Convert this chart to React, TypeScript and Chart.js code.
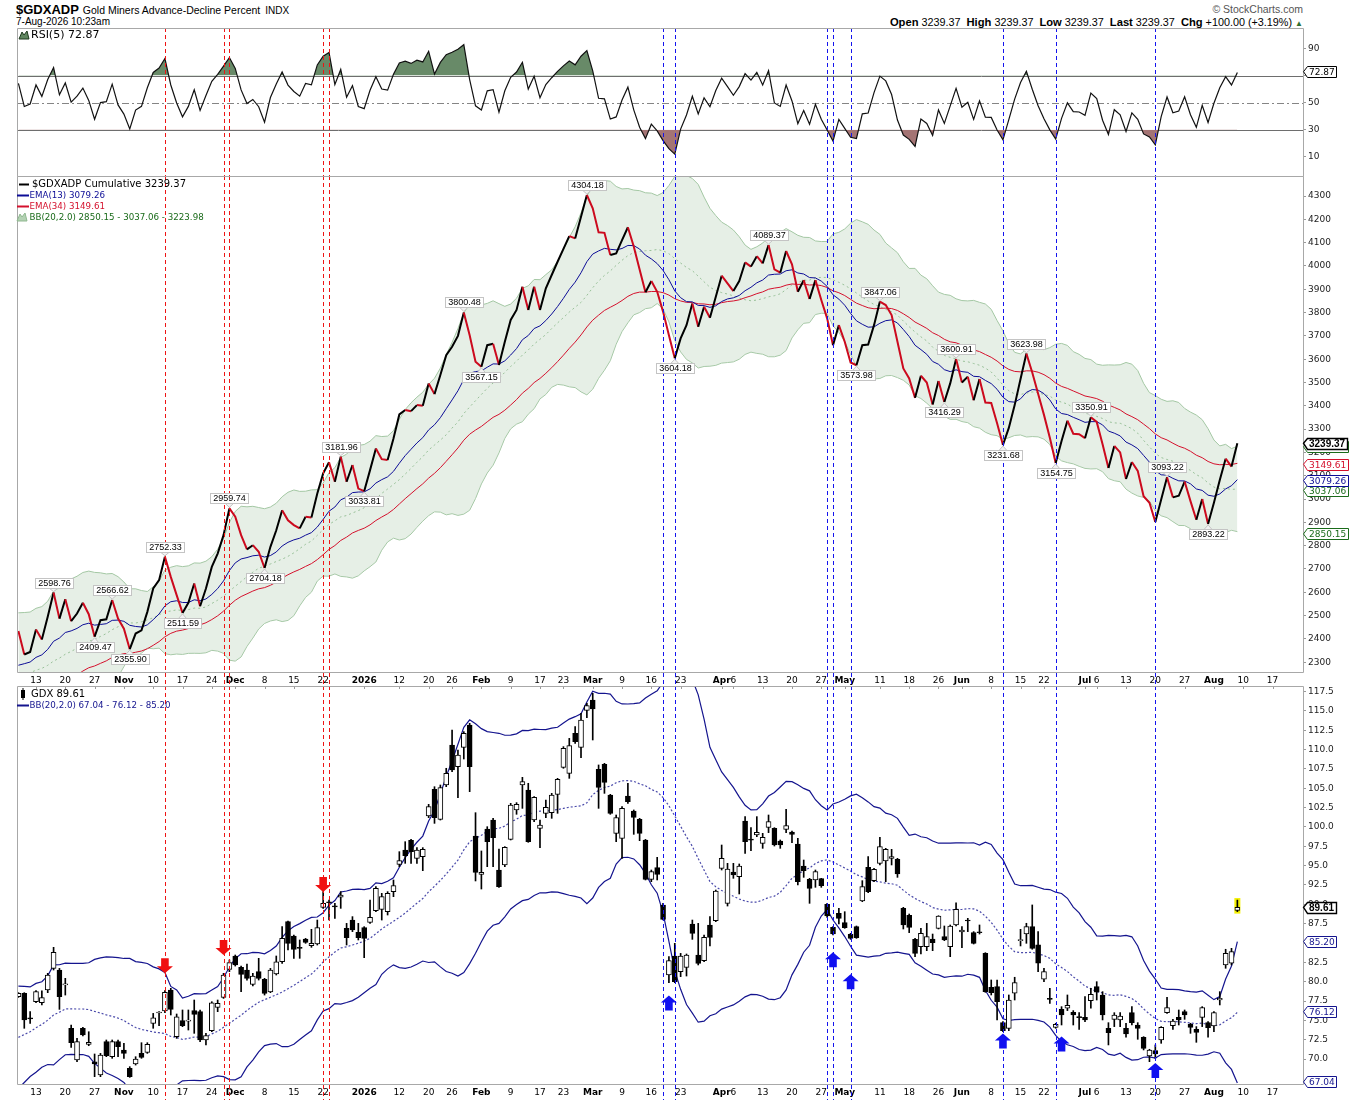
import React, { useEffect, useRef } from 'react';
import { Chart, registerables } from 'chart.js';

Chart.register(...registerables);

// ---------------- data ----------------
// trading-day index: 0 = 13-Oct-2025; the first bar shown is index -3 (8-Oct-2025), the last is 205 (7-Aug-2026)
const FIRST_INDEX = -3;
const X_MIN = -3.242;
const X_MAX = 216.2;

const tickIndex = [0, 5, 10, 15, 20, 25, 30, 34, 39, 44, 49, 56, 62, 67, 71, 76, 81, 86, 90, 95, 100, 105, 110, 117, 119, 124, 129, 134, 138, 144, 149, 154, 158, 163, 168, 172, 179, 181, 186, 191, 196, 201, 206, 211];
const tickText = ['13', '20', '27', 'Nov', '10', '17', '24', 'Dec', '8', '15', '22', '2026', '12', '20', '26', 'Feb', '9', '17', '23', 'Mar', '9', '16', '23', 'Apr', '6', '13', '20', '27', 'May', '11', '18', '26', 'Jun', '8', '15', '22', 'Jul', '6', '13', '20', '27', 'Aug', '10', '17'];

// $GDXADP cumulative close, index -3 .. 205
const cumValues = [
  2434, 2333, 2344,
  2440, 2397, 2495, 2598.76, 2487, 2570, 2476, 2509, 2555, 2506,
  2409.47, 2480, 2484, 2566.62, 2487, 2444, 2355.90, 2423, 2437, 2516,
  2616, 2652, 2752.33, 2666, 2588, 2511.59, 2555, 2638, 2540, 2616,
  2709, 2766, 2845, 2959.74, 2924, 2845, 2784, 2802, 2774, 2704.18,
  2795, 2866, 2952, 2909, 2888, 2874, 2924, 2921, 3024, 3110,
  3158, 3074, 3181.96, 3074, 3146, 3045, 3033.81, 3124, 3217, 3171,
  3167, 3260, 3363, 3382, 3377, 3403, 3400, 3496, 3450, 3532,
  3617, 3653, 3700, 3800.48, 3703, 3589, 3567.15, 3660, 3666, 3575,
  3675, 3768, 3811, 3911, 3811, 3911, 3811, 3904, 3961, 4018,
  4073, 4128, 4118, 4211, 4304.18, 4247, 4144, 4142, 4047, 4054,
  4111, 4166, 4083, 3985, 3887, 3935, 3889, 3804, 3703, 3604.18,
  3689, 3746, 3839, 3739, 3825, 3778, 3868, 3958, 3925, 3892,
  3935, 4015, 3997, 4042, 4011, 4089.37, 3985, 3971, 4064, 4007,
  3889, 3939, 3858, 3939, 3854, 3775, 3660, 3746, 3675, 3586,
  3573.98, 3660, 3663, 3746, 3847.06, 3832, 3789, 3675, 3560, 3517,
  3434, 3529, 3500, 3406, 3506, 3416.29, 3496, 3600.91, 3500, 3525,
  3424, 3515, 3414, 3412, 3325, 3231.68, 3305, 3403, 3515, 3623.98,
  3543, 3452, 3361, 3263, 3154.75, 3249, 3336, 3280, 3278, 3261,
  3350.91, 3331, 3235, 3133, 3228, 3200, 3086, 3159, 3121, 3012,
  2984, 2902, 2998, 3093.22, 3007, 3014, 3075, 2991, 2911, 3000,
  2893.22, 2984, 3082, 3173, 3139.37, 3239.37,
];

// GDX daily OHLC, index -3 .. 205
const gdxOpen = [
  78.06, 78.49, 75.30,
  77.41, 77.28, 78.92, 81.72, 81.51, 79.58, 73.97, 69.87, 73.97, 71.90,
  69.65, 67.93, 72.24, 70.30, 72.24, 71.16, 68.79, 69.35, 70.73, 70.86,
  74.61, 75.95, 76.21, 78.92, 72.89, 74.96, 74.90, 76.25, 76.12, 72.46,
  73.66, 76.68, 77.97, 81.59, 83.32, 81.85, 81.51, 79.65, 81.29, 80.30,
  78.66, 80.99, 82.58, 87.76, 85.90, 84.35, 85.52, 84.65, 84.87, 89.61,
  90.30, 89.75, 90.91, 86.90, 87.97, 86.38, 86.98, 87.67, 89.18, 89.35,
  89.05, 91.64, 95.17, 97.03, 98.28, 95.95, 96.16, 101.42, 104.87, 100.99,
  105.43, 110.60, 107.80, 110.30, 113.19, 98.84, 93.88, 99.74, 100.90, 94.44,
  95.09, 98.40, 102.20, 105.43, 104.78, 100.90, 99.83, 101.77, 101.85, 104.22,
  107.71, 106.94, 112.11, 110.30, 115.08, 116.42, 107.46, 108.10, 104.14, 99.18,
  98.53, 104.01, 102.07, 100.99, 98.32, 93.23, 94.74, 89.91, 80.86, 83.32,
  81.29, 81.85, 87.46, 83.45, 82.72, 87.33, 87.89, 94.65, 90.13, 94.18,
  93.58, 100.77, 98.35, 98.96, 97.89, 99.96, 99.83, 98.19, 99.70, 99.35,
  97.80, 94.96, 93.23, 93.15, 93.32, 90.00, 87.03, 88.84, 87.63, 86.12,
  87.11, 90.43, 94.78, 93.06, 95.30, 95.60, 95.95, 95.82, 89.48, 88.58,
  85.47, 84.53, 84.53, 85.52, 86.90, 85.82, 84.53, 87.33, 86.42, 87.90,
  86.34, 86.37, 83.66, 79.27, 79.35, 74.70, 73.97, 78.50, 85.30, 86.17,
  87.12, 84.75, 80.31, 77.75, 74.10, 76.43, 76.56, 76.04, 75.48, 75.39,
  77.55, 79.36, 78.28, 73.97, 75.13, 75.05, 73.97, 75.99, 74.40, 72.81,
  70.39, 71.08, 72.46, 75.99, 74.32, 75.39, 76.13, 74.49, 73.84, 75.39,
  74.70, 74.27, 77.63, 82.16, 82.38, 89.20,
];
const gdxHigh = [
  78.58, 78.58, 76.12,
  78.84, 78.80, 81.08, 84.44, 81.72, 80.43, 74.40, 72.67, 74.10, 73.53,
  70.65, 70.73, 72.46, 72.46, 72.46, 72.03, 69.01, 70.30, 72.11, 72.11,
  75.90, 76.12, 78.84, 79.14, 75.82, 76.34, 76.34, 77.63, 76.34, 73.32,
  77.41, 77.63, 81.08, 82.80, 83.45, 82.02, 82.28, 81.08, 83.02, 80.43,
  81.72, 83.32, 87.11, 87.84, 86.03, 85.39, 85.60, 86.77, 87.97, 91.64,
  90.56, 90.13, 91.64, 87.54, 88.41, 87.54, 87.11, 90.56, 92.28, 91.42,
  91.64, 93.15, 96.81, 98.10, 98.40, 97.33, 97.33, 102.93, 105.21, 105.43,
  107.59, 112.54, 109.96, 112.33, 113.40, 101.85, 96.90, 100.04, 101.12, 97.15,
  97.46, 103.06, 103.15, 106.42, 105.65, 103.92, 100.90, 103.49, 104.35, 106.29,
  110.39, 111.46, 112.97, 114.70, 115.99, 117.28, 108.02, 108.23, 104.22, 101.55,
  102.63, 105.65, 102.20, 101.12, 98.40, 94.44, 96.08, 90.13, 83.23, 84.96,
  83.66, 83.58, 87.97, 87.54, 86.03, 88.41, 91.85, 97.67, 95.30, 95.30,
  95.22, 101.34, 99.91, 101.34, 99.18, 101.55, 99.91, 98.32, 102.28, 99.48,
  98.53, 95.73, 93.36, 94.44, 93.36, 90.13, 87.11, 89.48, 89.05, 86.25,
  87.20, 93.06, 96.16, 94.65, 98.66, 97.24, 97.11, 95.95, 89.61, 88.75,
  85.60, 86.90, 87.54, 86.16, 88.53, 87.20, 87.33, 90.21, 87.11, 88.19,
  86.47, 87.33, 83.75, 80.22, 80.22, 74.83, 78.28, 80.57, 86.77, 87.55,
  89.92, 86.47, 81.73, 79.14, 74.62, 76.77, 78.28, 76.26, 75.99, 78.07,
  79.14, 80.00, 78.71, 74.70, 75.99, 75.99, 74.62, 76.77, 74.70, 72.89,
  71.26, 71.82, 74.19, 77.98, 75.13, 76.34, 76.34, 74.62, 74.19, 76.77,
  74.83, 76.13, 78.71, 84.19, 84.31, 90.55,
];
const gdxLow = [
  77.97, 73.97, 74.61,
  77.28, 76.98, 78.58, 81.51, 76.42, 78.27, 71.51, 69.65, 72.97, 71.72,
  67.72, 67.72, 70.30, 70.09, 70.30, 70.09, 67.63, 69.22, 70.09, 70.73,
  73.97, 74.31, 75.99, 75.69, 72.67, 74.18, 73.75, 73.32, 72.24, 71.81,
  73.53, 76.12, 77.84, 81.29, 82.02, 78.71, 80.21, 79.44, 80.21, 78.27,
  78.58, 80.86, 82.37, 84.10, 83.02, 83.02, 84.96, 84.44, 84.74, 89.48,
  87.97, 88.19, 89.48, 84.74, 86.47, 85.39, 83.10, 87.54, 89.05, 87.97,
  88.62, 90.99, 94.87, 95.30, 95.30, 95.30, 94.35, 101.21, 100.47, 100.90,
  105.21, 107.15, 103.79, 108.79, 104.57, 93.02, 91.98, 94.87, 94.87, 92.20,
  94.87, 98.32, 101.64, 102.41, 98.02, 100.69, 97.33, 101.21, 101.12, 101.77,
  107.59, 106.29, 110.82, 108.96, 114.14, 111.25, 102.41, 104.35, 101.64, 98.10,
  95.95, 103.06, 99.05, 98.23, 93.15, 92.93, 93.15, 87.97, 79.87, 79.87,
  80.65, 80.73, 85.47, 82.16, 82.59, 84.61, 87.76, 94.44, 89.78, 93.36,
  91.34, 96.59, 96.94, 98.75, 97.24, 99.27, 97.54, 97.24, 99.27, 97.97,
  92.50, 93.49, 90.13, 92.20, 92.20, 88.32, 86.03, 87.46, 86.90, 85.47,
  85.60, 90.34, 91.51, 92.93, 95.09, 92.93, 95.09, 93.49, 86.81, 86.34,
  83.23, 83.58, 84.01, 84.01, 86.81, 85.30, 83.23, 87.20, 84.40, 86.47,
  84.87, 86.16, 78.62, 78.28, 75.04, 73.54, 73.67, 77.63, 84.62, 84.96,
  84.19, 81.30, 80.00, 77.20, 73.97, 74.40, 76.26, 74.40, 73.84, 74.83,
  76.56, 77.63, 75.05, 71.82, 74.19, 74.19, 72.81, 74.40, 72.55, 71.17,
  69.66, 70.09, 72.03, 75.91, 73.84, 74.40, 75.13, 73.32, 72.16, 74.19,
  72.81, 73.54, 76.99, 81.73, 82.16, 89.06,
];
const gdxClose = [
  78.49, 75.04, 75.20,
  78.71, 77.93, 80.86, 83.79, 78.06, 79.62, 72.11, 72.24, 73.10, 72.15,
  69.35, 70.52, 70.43, 72.24, 71.60, 70.73, 67.72, 70.00, 70.22, 71.90,
  75.34, 76.03, 78.62, 76.42, 75.47, 74.31, 74.96, 75.77, 72.46, 73.02,
  77.28, 77.20, 80.86, 82.46, 82.15, 80.95, 80.43, 80.73, 80.43, 78.49,
  81.51, 82.58, 85.60, 84.96, 84.18, 84.30, 85.08, 84.96, 86.98, 90.13,
  90.20, 89.68, 91.21, 85.69, 86.68, 85.69, 85.60, 88.32, 92.07, 90.99,
  91.42, 92.41, 95.65, 96.29, 96.81, 97.03, 97.11, 102.63, 101.21, 105.09,
  106.94, 107.37, 109.31, 112.11, 107.80, 94.14, 94.14, 98.10, 98.62, 92.28,
  97.37, 102.84, 102.93, 105.86, 98.10, 103.84, 100.26, 102.54, 104.14, 106.16,
  110.17, 110.52, 111.03, 113.83, 115.69, 115.26, 105.13, 105.77, 101.77, 101.21,
  102.41, 103.28, 101.25, 99.18, 93.23, 94.22, 93.88, 88.06, 82.72, 80.00,
  83.32, 83.45, 86.25, 82.37, 85.73, 85.73, 91.72, 95.95, 94.57, 93.79,
  94.96, 98.10, 98.30, 99.31, 98.66, 100.69, 97.67, 97.67, 100.17, 99.05,
  92.93, 94.35, 92.07, 94.22, 92.41, 88.49, 86.16, 88.19, 86.98, 85.60,
  85.69, 92.28, 91.64, 94.52, 97.46, 97.11, 96.16, 93.92, 87.33, 87.03,
  83.66, 86.25, 85.82, 85.04, 88.49, 85.39, 87.20, 89.35, 86.68, 87.85,
  84.96, 86.32, 78.71, 78.58, 77.41, 73.67, 77.63, 79.88, 85.31, 87.12,
  84.31, 82.38, 81.30, 77.72, 74.49, 75.69, 76.94, 75.69, 75.35, 75.05,
  78.37, 78.63, 75.69, 73.41, 75.69, 75.56, 73.24, 74.70, 73.97, 71.38,
  71.17, 70.65, 74.10, 76.64, 74.92, 75.05, 75.69, 74.10, 73.45, 76.64,
  74.06, 75.99, 77.85, 83.67, 83.88, 89.61,
];

// annotated swing points on the cumulative line
const peakIndex = [3, 13, 22, 33, 52, 73, 94, 125, 144, 157, 169, 180, 193];
const troughIndex = [10, 16, 25, 39, 56, 76, 109, 140, 155, 165, 174, 200];

// vertical dashed marker lines
const redLineIndex = [22, 32, 33, 49, 50];
const blueLineIndex = [107, 109, 135, 136, 139, 165, 174, 191];

// signal arrows on the GDX panel (tip value)
const sellArrowIndex = [22, 32, 49];
const sellArrowTip = [81.1, 83.45, 91.6];
const buyArrowIndex = [108, 136, 139, 165, 175, 191];
const buyArrowTip = [78.2, 83.8, 80.95, 73.3, 72.9, 69.5];

// legend / last values as printed
const legendRsi = 72.87;
const legendCum = 3239.37;
const legendEma13 = 3079.26;
const legendEma34 = 3149.61;
const legendCumBB = [2850.15, 3037.06, 3223.98];
const legendGdx = 89.61;
const legendGdxBB = [67.04, 76.12, 85.20];

// indicator warm-up (history before the first shown bar), estimated from the picture's left edge
const cumEmaSeed = [2287, 2060];
const cumWarmup = { level: 2235, slope: 0, scatter: 129.5 };
const gdxWarmup = { level: 78, slope: 0.55, scatter: 0.8 };
const rsiSeed = [45, 25];

// axis ticks
const rsiTicks = [10, 30, 50, 70, 90];
const cumTicks = [2300, 2400, 2500, 2600, 2700, 2800, 2900, 3000, 3100, 3200, 3300, 3400, 3500, 3600, 3700, 3800, 3900, 4000, 4100, 4200, 4300];
const gdxTicks = [70, 72.5, 75, 77.5, 80, 82.5, 85, 87.5, 90, 92.5, 95, 97.5, 100, 102.5, 105, 107.5, 110, 112.5, 115, 117.5];

// ---------------- indicators ----------------
function ema(values: number[], period: number, seed: number) {
  const k = 2 / (period + 1);
  let e = seed;
  return values.map((v, i) => {
    if (i > 0) e = e + k * (v - e);
    return e;
  });
}

// Bollinger bands; positions before the first bar use the warm-up estimate (level + slope*k, scatter)
function bollinger(values: number[], period: number, mult: number, warm: { level: number; slope: number; scatter: number }) {
  return values.map((_, i) => {
    const win = values.slice(Math.max(0, i - period + 1), i + 1);
    const missing = period - win.length;
    const hist: number[] = [];
    for (let k = 1; k <= missing; k++) hist.push(warm.level - warm.slope * k);
    const all = hist.concat(win);
    const mean = all.reduce((a, b) => a + b, 0) / period;
    const ss = all.reduce((a, b) => a + (b - mean) * (b - mean), 0) + missing * warm.scatter * warm.scatter;
    const sd = Math.sqrt(ss / period);
    return { mid: mean, up: mean + mult * sd, lo: mean - mult * sd };
  });
}

function rsi(values: number[], period: number, g0: number, l0: number) {
  let g = g0;
  let l = l0;
  return values.map((v, i) => {
    if (i > 0) {
      const d = v - values[i - 1];
      g = (g * (period - 1) + Math.max(d, 0)) / period;
      l = (l * (period - 1) + Math.max(-d, 0)) / period;
    }
    return l === 0 ? 100 : 100 - 100 / (1 + g / l);
  });
}

const pts = (arr: number[]) => arr.map((y, k) => ({ x: k + FIRST_INDEX, y }));

// ---------------- styles ----------------
const DOWN_RED = '#cc0a1e';
const EMA13_C = '#0c0c96';
const EMA34_C = '#d4102c';
const NAVY = '#14148e';
const BAND_LINE = '#a3c7a3';
const BAND_FILL = 'rgba(186,212,186,0.36)';
const BB_GREEN = '#1a6b1a';
const FRAME = '#a8a8a8';
const FONT = '"DejaVu Sans", Verdana, sans-serif';
const ARIAL = '"Liberation Sans", Arial, sans-serif';

function xScale(show: boolean, height: number) {
  return {
    type: 'linear',
    min: X_MIN,
    max: X_MAX,
    bounds: 'data',
    offset: false,
    display: show,
    grid: { display: false, drawTicks: false },
    border: { display: false },
    afterBuildTicks: (s: any) => {
      s.ticks = tickIndex.map((v) => ({ value: v }));
    },
    afterFit: (s: any) => {
      s.height = height;
      s.paddingLeft = 0;
      s.paddingRight = 0;
    },
    ticks: {
      autoSkip: false,
      maxRotation: 0,
      minRotation: 0,
      padding: 2,
      color: '#000',
      font: (c: any) => {
        const idx = tickIndex.indexOf(c.tick ? c.tick.value : -999);
        const t = idx >= 0 ? tickText[idx] : '';
        return { family: FONT, size: 9, weight: /^[A-Z]|2026/.test(t) ? 'bold' : 'normal' };
      },
      callback: (v: number) => {
        const idx = tickIndex.indexOf(v);
        return idx >= 0 ? tickText[idx] : '';
      },
    },
  };
}

function yScale(min: number, max: number, ticks: number[], fmt: (v: number) => string) {
  return {
    type: 'linear',
    position: 'right',
    min,
    max,
    bounds: 'data',
    grid: { display: true, drawOnChartArea: false, drawTicks: true, tickLength: 3, color: '#9a9a9a' },
    border: { display: false },
    afterBuildTicks: (s: any) => {
      s.ticks = ticks.map((v) => ({ value: v }));
    },
    afterFit: (s: any) => {
      s.width = 47;
      s.paddingTop = 0;
      s.paddingBottom = 0;
    },
    ticks: { padding: 2, color: '#222', font: { family: FONT, size: 9 }, callback: fmt },
  };
}

function baseOptions(scales: any) {
  return {
    animation: false,
    responsive: false,
    maintainAspectRatio: false,
    events: [],
    layout: { padding: { left: 17, right: 0, top: 0, bottom: 0 } },
    plugins: { legend: { display: false }, tooltip: { enabled: false } },
    scales,
  };
}

// ---------------- drawing helpers ----------------
function drawFrame(chart: any) {
  const { ctx, chartArea: a } = chart;
  ctx.save();
  ctx.strokeStyle = FRAME;
  ctx.lineWidth = 1;
  ctx.setLineDash([]);
  const l = Math.round(a.left) + 0.5;
  const t = Math.round(a.top) + 0.5;
  const r = Math.round(a.right) + 0.5;
  const b = Math.round(a.bottom) - 0.5;
  ctx.beginPath();
  ctx.moveTo(l, b);
  ctx.lineTo(l, t);
  ctx.lineTo(r, t);
  ctx.lineTo(r, b);
  ctx.lineTo(l, b);
  ctx.stroke();
  ctx.restore();
}

function drawVLines(chart: any, toBottom: boolean) {
  const { ctx, chartArea } = chart;
  const xs = chart.scales.x;
  const y0 = chartArea.top;
  const y1 = toBottom ? chart.height : chartArea.bottom;
  ctx.save();
  ctx.lineWidth = 1;
  ctx.setLineDash([4, 3]);
  const groups: [number[], string][] = [[redLineIndex, '#ee1414'], [blueLineIndex, '#1414ee']];
  for (const [list, color] of groups) {
    ctx.strokeStyle = color;
    for (const i of list) {
      const x = Math.round(xs.getPixelForValue(i)) + 0.5;
      ctx.beginPath();
      ctx.moveTo(x, y0);
      ctx.lineTo(x, y1);
      ctx.stroke();
    }
  }
  ctx.restore();
}

function drawTag(ctx: any, x0: number, y: number, text: string, color: string, bold: boolean) {
  ctx.save();
  ctx.font = bold ? `bold 10px ${ARIAL}` : `9px ${FONT}`;
  const w = ctx.measureText(text).width;
  const h = 11;
  const xl = x0 + 0.5;
  const xb = xl + 4;
  const xr = Math.round(xb + w + 3) + 0.5;
  const yt = Math.round(y - h / 2) + 0.5;
  ctx.beginPath();
  ctx.moveTo(xl, y);
  ctx.lineTo(xb, yt);
  ctx.lineTo(xr, yt);
  ctx.lineTo(xr, yt + h);
  ctx.lineTo(xb, yt + h);
  ctx.closePath();
  ctx.fillStyle = '#fff';
  ctx.fill();
  ctx.lineWidth = bold ? 1.4 : 1;
  ctx.strokeStyle = color;
  ctx.stroke();
  ctx.fillStyle = color;
  ctx.textAlign = 'left';
  ctx.textBaseline = 'middle';
  ctx.fillText(text, xb + 1.5, yt + h / 2 + 0.5);
  ctx.restore();
}

function drawText(ctx: any, x: number, y: number, text: string, color: string, font: string) {
  ctx.save();
  ctx.font = font;
  ctx.fillStyle = color;
  ctx.textAlign = 'left';
  ctx.textBaseline = 'middle';
  ctx.fillText(text, x, y);
  ctx.restore();
}

function drawDash(ctx: any, x0: number, x1: number, y: number, color: string) {
  ctx.save();
  ctx.strokeStyle = color;
  ctx.lineWidth = 2;
  ctx.beginPath();
  ctx.moveTo(x0, y);
  ctx.lineTo(x1, y);
  ctx.stroke();
  ctx.restore();
}

function drawMountain(ctx: any, x: number, y: number, fill: string, stroke: string) {
  ctx.save();
  ctx.beginPath();
  ctx.moveTo(x, y + 4);
  ctx.lineTo(x + 3, y - 3);
  ctx.lineTo(x + 5, y);
  ctx.lineTo(x + 8, y - 4);
  ctx.lineTo(x + 10, y + 4);
  ctx.closePath();
  ctx.fillStyle = fill;
  ctx.fill();
  ctx.strokeStyle = stroke;
  ctx.lineWidth = 1;
  ctx.stroke();
  ctx.restore();
}

function drawCallout(ctx: any, x: number, y: number, text: string, above: boolean) {
  ctx.save();
  ctx.font = `9px ${ARIAL}`;
  const w = Math.ceil(ctx.measureText(text).width) + 5;
  const h = 10;
  const gap = 5;
  const bx = Math.round(x - w / 2) + 0.5;
  const by = above ? Math.round(y - gap - h) + 0.5 : Math.round(y + gap) + 0.5;
  ctx.beginPath();
  if (above) {
    ctx.moveTo(x - 4, by + h);
    ctx.lineTo(x, y - 1);
    ctx.lineTo(x + 4, by + h);
  } else {
    ctx.moveTo(x - 4, by);
    ctx.lineTo(x, y + 1);
    ctx.lineTo(x + 4, by);
  }
  ctx.closePath();
  ctx.fillStyle = '#f2f2f2';
  ctx.fill();
  ctx.strokeStyle = '#c4c4c4';
  ctx.lineWidth = 1;
  ctx.stroke();
  ctx.fillStyle = '#fff';
  ctx.fillRect(bx, by, w, h);
  ctx.strokeRect(bx, by, w, h);
  ctx.fillStyle = '#000';
  ctx.textAlign = 'center';
  ctx.textBaseline = 'middle';
  ctx.fillText(text, bx + w / 2, by + h / 2 + 0.5);
  ctx.restore();
}

function drawArrow(ctx: any, x: number, tipY: number, down: boolean, color: string) {
  const s = down ? -1 : 1;
  ctx.save();
  ctx.fillStyle = color;
  ctx.beginPath();
  ctx.moveTo(x, tipY);
  ctx.lineTo(x - 8, tipY + s * 7);
  ctx.lineTo(x - 3.8, tipY + s * 7);
  ctx.lineTo(x - 3.8, tipY + s * 15);
  ctx.lineTo(x + 3.8, tipY + s * 15);
  ctx.lineTo(x + 3.8, tipY + s * 7);
  ctx.lineTo(x + 8, tipY + s * 7);
  ctx.closePath();
  ctx.fill();
  ctx.restore();
}

// ---------------- chart configs ----------------
const rsiValues = rsi(cumValues, 5, rsiSeed[0], rsiSeed[1]);
const ema13 = ema(cumValues, 13, cumEmaSeed[0]);
const ema34 = ema(cumValues, 34, cumEmaSeed[1]);
const cumBand = bollinger(cumValues, 20, 2, cumWarmup);
const gdxBand = bollinger(gdxClose, 20, 2, gdxWarmup);

function rsiConfig() {
  const plugin = {
    id: 'rsiDecor',
    beforeDatasetsDraw(chart: any) {
      const { ctx, chartArea: a } = chart;
      const ys = chart.scales.y;
      ctx.save();
      ctx.lineWidth = 1;
      ctx.strokeStyle = '#6e6e6e';
      for (const v of [70, 30]) {
        const y = Math.round(ys.getPixelForValue(v)) + 0.5;
        ctx.beginPath();
        ctx.moveTo(a.left, y);
        ctx.lineTo(a.right, y);
        ctx.stroke();
      }
      ctx.strokeStyle = '#858585';
      ctx.setLineDash([7, 3, 2, 3]);
      const y5 = Math.round(ys.getPixelForValue(50)) + 0.5;
      ctx.beginPath();
      ctx.moveTo(a.left, y5);
      ctx.lineTo(a.right, y5);
      ctx.stroke();
      ctx.restore();
    },
    afterDatasetsDraw(chart: any) {
      drawVLines(chart, false);
    },
    afterDraw(chart: any) {
      drawFrame(chart);
      const ctx = chart.ctx;
      drawMountain(ctx, 19, 7, '#5f865f', '#1e3a1e');
      drawText(ctx, 31, 7.5, `RSI(5) ${legendRsi.toFixed(2)}`, '#000', `11px ${FONT}`);
      drawTag(ctx, chart.chartArea.right, chart.scales.y.getPixelForValue(legendRsi), legendRsi.toFixed(2), '#000', false);
    },
  };
  return {
    type: 'line',
    data: {
      datasets: [
        {
          data: pts(rsiValues),
          borderColor: '#111',
          borderWidth: 1.2,
          pointRadius: 0,
          tension: 0,
          fill: { target: { value: 70 }, above: 'rgb(104,138,104)', below: 'rgba(0,0,0,0)' },
          order: 0,
        },
        {
          data: pts(rsiValues),
          borderColor: 'rgba(0,0,0,0)',
          borderWidth: 0,
          pointRadius: 0,
          tension: 0,
          fill: { target: { value: 30 }, above: 'rgba(0,0,0,0)', below: 'rgb(164,116,116)' },
          order: 1,
        },
      ],
    },
    options: baseOptions({
      x: xScale(false, 0),
      y: yScale(-4.83, 105.13, rsiTicks, (v: number) => String(v)),
    }),
    plugins: [plugin],
  };
}

function mainConfig() {
  const plugin = {
    id: 'mainDecor',
    afterDatasetsDraw(chart: any) {
      drawVLines(chart, true);
      const xs = chart.scales.x;
      const ys = chart.scales.y;
      const ctx = chart.ctx;
      for (const i of peakIndex) {
        const v = cumValues[i - FIRST_INDEX];
        drawCallout(ctx, xs.getPixelForValue(i), ys.getPixelForValue(v), v.toFixed(2), true);
      }
      for (const i of troughIndex) {
        const v = cumValues[i - FIRST_INDEX];
        drawCallout(ctx, xs.getPixelForValue(i), ys.getPixelForValue(v), v.toFixed(2), false);
      }
    },
    afterDraw(chart: any) {
      drawFrame(chart);
      const ctx = chart.ctx;
      drawDash(ctx, 19, 29, 8.5, '#000');
      drawText(ctx, 32, 8.5, `$GDXADP Cumulative ${legendCum.toFixed(2)}`, '#000', `10px ${FONT}`);
      drawDash(ctx, 17, 29, 19.5, EMA13_C);
      drawText(ctx, 29.5, 19.5, `EMA(13) ${legendEma13.toFixed(2)}`, EMA13_C, `8.7px ${FONT}`);
      drawDash(ctx, 17, 29, 30.5, EMA34_C);
      drawText(ctx, 29.5, 30.5, `EMA(34) ${legendEma34.toFixed(2)}`, EMA34_C, `8.7px ${FONT}`);
      drawMountain(ctx, 17, 41, '#b4d2b4', '#8fb88f');
      drawText(ctx, 29.5, 41.5,
        `BB(20,2.0) ${legendCumBB[0].toFixed(2)} - ${legendCumBB[1].toFixed(2)} - ${legendCumBB[2].toFixed(2)}`,
        BB_GREEN, `8.7px ${FONT}`);
      const ys = chart.scales.y;
      const r = chart.chartArea.right;
      drawTag(ctx, r, ys.getPixelForValue(legendCumBB[2]), legendCumBB[2].toFixed(2), BB_GREEN, false);
      drawTag(ctx, r, ys.getPixelForValue(legendCumBB[0]), legendCumBB[0].toFixed(2), BB_GREEN, false);
      drawTag(ctx, r, ys.getPixelForValue(legendCumBB[1]), legendCumBB[1].toFixed(2), BB_GREEN, false);
      drawTag(ctx, r, ys.getPixelForValue(legendEma13), legendEma13.toFixed(2), EMA13_C, false);
      drawTag(ctx, r, ys.getPixelForValue(legendEma34), legendEma34.toFixed(2), EMA34_C, false);
      drawTag(ctx, r, ys.getPixelForValue(legendCum), legendCum.toFixed(2), '#000', true);
    },
  };
  return {
    type: 'line',
    data: {
      datasets: [
        {
          data: pts(cumValues),
          borderColor: '#000',
          borderWidth: 2,
          pointRadius: 0,
          tension: 0,
          segment: {
            borderColor: (c: any) => (c.p1.parsed.y < c.p0.parsed.y ? DOWN_RED : '#000'),
          },
          order: 0,
        },
        { data: pts(ema13), borderColor: EMA13_C, borderWidth: 1, pointRadius: 0, tension: 0, order: 1 },
        { data: pts(ema34), borderColor: EMA34_C, borderWidth: 1, pointRadius: 0, tension: 0, order: 2 },
        {
          data: pts(cumBand.map((b) => b.mid)),
          borderColor: '#98c098',
          borderWidth: 1,
          borderDash: [2, 3],
          pointRadius: 0,
          tension: 0,
          order: 3,
        },
        {
          data: pts(cumBand.map((b) => b.up)),
          borderColor: BAND_LINE,
          borderWidth: 1,
          pointRadius: 0,
          tension: 0,
          fill: '+1',
          backgroundColor: BAND_FILL,
          order: 4,
        },
        {
          data: pts(cumBand.map((b) => b.lo)),
          borderColor: BAND_LINE,
          borderWidth: 1,
          pointRadius: 0,
          tension: 0,
          order: 5,
        },
      ],
    },
    options: baseOptions({
      x: xScale(true, 13),
      y: yScale(2253.7, 4385.8, cumTicks, (v: number) => String(v)),
    }),
    plugins: [plugin],
  };
}

function gdxConfig() {
  const plugin = {
    id: 'gdxDecor',
    beforeDatasetsDraw(chart: any) {
      const { ctx, chartArea: a } = chart;
      const xs = chart.scales.x;
      const ys = chart.scales.y;
      const last = gdxClose.length - 1;
      const xl = xs.getPixelForValue(last + FIRST_INDEX);
      const yh = ys.getPixelForValue(gdxHigh[last]);
      const yl = ys.getPixelForValue(gdxLow[last]);
      ctx.save();
      ctx.fillStyle = '#f4f000';
      ctx.fillRect(xl - 3, yh - 2, 6, yl - yh + 4);
      ctx.strokeStyle = '#9a9a9a';
      ctx.lineWidth = 1;
      for (const i of tickIndex) {
        const x = Math.round(xs.getPixelForValue(i)) + 0.5;
        ctx.beginPath();
        ctx.moveTo(x, a.top);
        ctx.lineTo(x, a.top + 3);
        ctx.stroke();
      }
      ctx.restore();
    },
    afterDatasetsDraw(chart: any) {
      drawVLines(chart, true);
      const xs = chart.scales.x;
      const ys = chart.scales.y;
      const ctx = chart.ctx;
      sellArrowIndex.forEach((i, k) => drawArrow(ctx, xs.getPixelForValue(i), ys.getPixelForValue(sellArrowTip[k]), true, '#f01010'));
      buyArrowIndex.forEach((i, k) => drawArrow(ctx, xs.getPixelForValue(i), ys.getPixelForValue(buyArrowTip[k]), false, '#1010f0'));
    },
    afterDraw(chart: any) {
      drawFrame(chart);
      const ctx = chart.ctx;
      ctx.save();
      ctx.fillStyle = '#000';
      ctx.fillRect(21, 4, 4, 8);
      ctx.fillRect(22.5, 2, 1, 12);
      ctx.restore();
      drawText(ctx, 31, 8.5, `GDX ${legendGdx.toFixed(2)}`, '#000', `10px ${FONT}`);
      drawDash(ctx, 17, 29, 19.5, NAVY);
      drawText(ctx, 29.5, 19.5,
        `BB(20,2.0) ${legendGdxBB[0].toFixed(2)} - ${legendGdxBB[1].toFixed(2)} - ${legendGdxBB[2].toFixed(2)}`,
        NAVY, `8.7px ${FONT}`);
      const ys = chart.scales.y;
      const r = chart.chartArea.right;
      drawTag(ctx, r, ys.getPixelForValue(legendGdxBB[0]), legendGdxBB[0].toFixed(2), NAVY, false);
      drawTag(ctx, r, ys.getPixelForValue(legendGdxBB[1]), legendGdxBB[1].toFixed(2), NAVY, false);
      drawTag(ctx, r, ys.getPixelForValue(legendGdxBB[2]), legendGdxBB[2].toFixed(2), NAVY, false);
      drawTag(ctx, r, ys.getPixelForValue(legendGdx), legendGdx.toFixed(2), '#000', true);
    },
  };
  const bodies = gdxOpen.map((o, k) => ({
    x: k + FIRST_INDEX,
    y: [Math.min(o, gdxClose[k]), Math.max(o, gdxClose[k])],
  }));
  const wicks = gdxLow.map((l, k) => ({ x: k + FIRST_INDEX, y: [l, gdxHigh[k]] }));
  return {
    type: 'line',
    data: {
      datasets: [
        {
          type: 'bar',
          data: bodies,
          backgroundColor: (c: any) => (gdxClose[c.dataIndex] >= gdxOpen[c.dataIndex] ? '#ffffff' : '#000000'),
          borderColor: '#000',
          borderWidth: 1,
          borderSkipped: false,
          grouped: false,
          barThickness: 5,
          maxBarThickness: 5,
          minBarLength: 1,
          order: 0,
        },
        {
          type: 'bar',
          data: wicks,
          backgroundColor: '#000',
          borderWidth: 0,
          grouped: false,
          barThickness: 1,
          maxBarThickness: 1,
          order: 1,
        },
        { type: 'line', data: pts(gdxBand.map((b) => b.up)), borderColor: NAVY, borderWidth: 1.2, pointRadius: 0, tension: 0, order: 2 },
        {
          type: 'line',
          data: pts(gdxBand.map((b) => b.mid)),
          borderColor: '#4a4aaa',
          borderWidth: 1.2,
          borderDash: [2, 2],
          pointRadius: 0,
          tension: 0,
          order: 3,
        },
        { type: 'line', data: pts(gdxBand.map((b) => b.lo)), borderColor: NAVY, borderWidth: 1.2, pointRadius: 0, tension: 0, order: 4 },
      ],
    },
    options: baseOptions({
      x: xScale(true, 15),
      y: yScale(66.64, 118.23, gdxTicks, (v: number) => v.toFixed(1)),
    }),
    plugins: [plugin],
  };
}

// ---------------- component ----------------
export default function App() {
  const rsiRef = useRef<HTMLCanvasElement>(null);
  const mainRef = useRef<HTMLCanvasElement>(null);
  const gdxRef = useRef<HTMLCanvasElement>(null);

  useEffect(() => {
    const charts: any[] = [];
    if (rsiRef.current) charts.push(new Chart(rsiRef.current, rsiConfig() as any));
    if (mainRef.current) charts.push(new Chart(mainRef.current, mainConfig() as any));
    if (gdxRef.current) charts.push(new Chart(gdxRef.current, gdxConfig() as any));
    return () => charts.forEach((c) => c.destroy());
  }, []);

  const canvasStyle = (top: number, height: number): React.CSSProperties => ({
    position: 'absolute',
    left: 0,
    top,
    width: 1350,
    height,
  });

  return (
    <div style={{ position: 'absolute', left: 0, top: 0, width: 1350, height: 1100, background: '#fff', overflow: 'hidden', fontFamily: ARIAL, color: '#000' }}>
      <div style={{ position: 'absolute', left: 16, top: 1, whiteSpace: 'nowrap', lineHeight: '16px' }}>
        <span style={{ font: `bold 13px ${ARIAL}` }}>$GDXADP</span>
        <span style={{ font: `10.5px ${ARIAL}`, marginLeft: 4 }}>Gold Miners Advance-Decline Percent</span>
        <span style={{ font: `10px ${ARIAL}`, marginLeft: 5 }}>INDX</span>
      </div>
      <div style={{ position: 'absolute', left: 16, top: 16, whiteSpace: 'nowrap', font: `10px ${ARIAL}`, lineHeight: '12px' }}>7-Aug-2026 10:23am</div>
      <div style={{ position: 'absolute', right: 47, top: 3, whiteSpace: 'nowrap', font: `10.5px ${ARIAL}`, lineHeight: '12px', color: '#555' }}>© StockCharts.com</div>
      <div style={{ position: 'absolute', right: 47, top: 16, whiteSpace: 'nowrap', font: `10.8px ${ARIAL}`, lineHeight: '13px' }}>
        <b style={{ fontSize: 11.2 }}>Open</b> 3239.37&nbsp; <b style={{ fontSize: 11.2 }}>High</b> 3239.37&nbsp; <b style={{ fontSize: 11.2 }}>Low</b> 3239.37&nbsp;{' '}
        <b style={{ fontSize: 11.2 }}>Last</b> 3239.37&nbsp; <b style={{ fontSize: 11.2 }}>Chg</b> +100.00 (+3.19%) <span style={{ fontSize: 8, color: '#2f6f2f' }}>▲</span>
      </div>
      <canvas ref={rsiRef} width={1350} height={149} style={canvasStyle(28, 149)} />
      <canvas ref={mainRef} width={1350} height={510} style={canvasStyle(176, 510)} />
      <canvas ref={gdxRef} width={1350} height={414} style={canvasStyle(686, 414)} />
    </div>
  );
}
